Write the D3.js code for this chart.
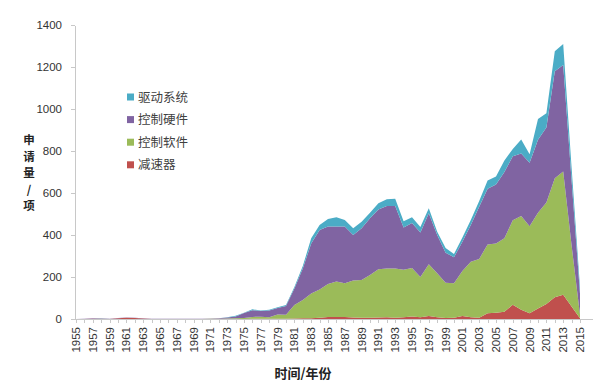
<!DOCTYPE html>
<meta charset="utf-8">
<style>
  body { margin: 0; background: #fff; }
  .axis path, .axis line { fill: none; stroke: #c8c8c8; shape-rendering: crispEdges; }
  .axis text { font-family: "Liberation Sans", Arial, sans-serif; font-size: 11.5px; fill: #333; }
  .cn { font-family: "Noto Sans CJK SC", sans-serif; }
</style>
<div class="chart"></div>
<script src="https://cdn.jsdelivr.net/npm/d3@7/dist/d3.min.js"></script>
<script>
// years 1955..2015
var years = d3.range(1955, 2016);

// 减速器 (red)
var reducer = [0,0,1,1,0,4,6,5,2,0, 0,0,0,0,0,0,0,0,0,0,
  0,1,1,1,1,1,2,3,4,6, 10,10,9,7,6,6,7,8,6,8,
  12,8,14,8,5,6,14,8,6,27, 30,34,68,44,27,50,72,104,115,60, 3];
// 控制软件 (green)
var software = [0,0,0,0,0,0,0,0,0,0, 0,0,0,0,0,0,1,1,2,3,
  5,9,10,7,21,19,65,87,118,135, 157,168,161,176,180,204,230,233,235,227,
  231,192,247,210,168,164,215,265,280,328, 330,350,402,446,415,456,483,566,587,290, 17];
// 控制硬件 (purple)
var hardware = [0,1,2,1,1,1,1,1,1,1, 1,1,1,1,1,1,1,2,5,9,
  23,32,27,32,30,42,78,150,238,283, 273,262,270,217,246,270,285,297,297,201,
  214,212,242,182,143,124,139,175,249,265, 280,316,305,298,302,348,357,510,508,310, 100];
// 驱动系统 (cyan)
var drive = [0,0,1,1,0,0,0,0,0,0, 0,0,0,0,0,0,0,1,1,3,
  2,4,2,4,4,5,7,12,24,24, 36,44,31,32,31,26,29,32,35,29,
  27,26,24,16,22,16,20,24,27,40, 38,55,35,67,41,98,68,95,100,60, 30];

var keys = ["减速器", "控制软件", "控制硬件", "驱动系统"];
var colors = ["#c0504d", "#9bbb59", "#8064a2", "#4bacc6"];
var yTicks = [0, 200, 400, 600, 800, 1000, 1200, 1400];

var rows = years.map(function(y, i) {
  return {year: y, "减速器": reducer[i], "控制软件": software[i], "控制硬件": hardware[i], "驱动系统": drive[i]};
});

var width = 593, height = 385;
var x = d3.scaleLinear().domain([1955, 2015]).range([76, 580]);
var y = d3.scaleLinear().domain([0, 1400]).range([319, 25]);

var svg = d3.select(".chart").append("svg")
  .attr("width", width).attr("height", height);

var series = d3.stack().keys(keys)(rows);

var area = d3.area()
  .x(function(d) { return x(d.data.year); })
  .y0(function(d) { return y(d[0]); })
  .y1(function(d) { return y(d[1]); });

svg.append("g").selectAll("path")
  .data(series).enter().append("path")
  .attr("d", area)
  .attr("fill", function(d, i) { return colors[i]; });

// y axis
svg.append("g").attr("class", "axis")
  .attr("transform", "translate(75,0)")
  .call(d3.axisLeft(y).tickValues(yTicks).tickFormat(d3.format("d"))
    .tickSize(4).tickPadding(9).tickSizeOuter(0));

// x axis: tick every year, label every 2 years
var xa = svg.append("g").attr("class", "axis")
  .attr("transform", "translate(0,319)")
  .call(d3.axisBottom(x).tickValues(years).tickSize(4).tickSizeOuter(0).tickFormat(""));
xa.select(".domain").attr("d", "M75,0H593");

svg.append("g").attr("class", "axis")
  .selectAll("text")
  .data(years.filter(function(d) { return (d - 1955) % 2 === 0; }))
  .enter().append("text")
  .attr("transform", function(d) { return "translate(" + x(d) + ",327) rotate(-90)"; })
  .attr("dy", "0.35em")
  .style("text-anchor", "end")
  .text(function(d) { return d; });

// legend
var legendItems = [3, 2, 1, 0];
var leg = svg.append("g").attr("transform", "translate(127,97)");
legendItems.forEach(function(k, i) {
  var g = leg.append("g").attr("transform", "translate(0," + (i * 22.6) + ")");
  g.append("rect").attr("x", 0).attr("y", -3.5).attr("width", 7).attr("height", 7).attr("fill", colors[k]);
  g.append("text").attr("class", "cn").attr("x", 11).attr("dy", "0.36em")
    .attr("font-size", "12.5px").attr("fill", "#404040").text(keys[k]);
});

// y title, stacked characters
var yTitle = ["申", "请", "量", "/", "项"];
svg.append("g").selectAll("text")
  .data(yTitle).enter().append("text")
  .attr("class", "cn")
  .attr("x", 29)
  .attr("y", function(d, i) { return 140 + i * 16.5; })
  .attr("dy", "0.36em")
  .attr("font-size", "11.5px").attr("font-weight", "bold")
  .attr("fill", "#222")
  .style("text-anchor", "middle")
  .text(function(d) { return d; });

// x title
svg.append("text")
  .attr("class", "cn")
  .attr("x", 303).attr("y", 373)
  .attr("dy", "0.36em")
  .attr("font-size", "13px").attr("font-weight", "bold")
  .attr("fill", "#222")
  .style("text-anchor", "middle")
  .text("时间/年份");
</script>
